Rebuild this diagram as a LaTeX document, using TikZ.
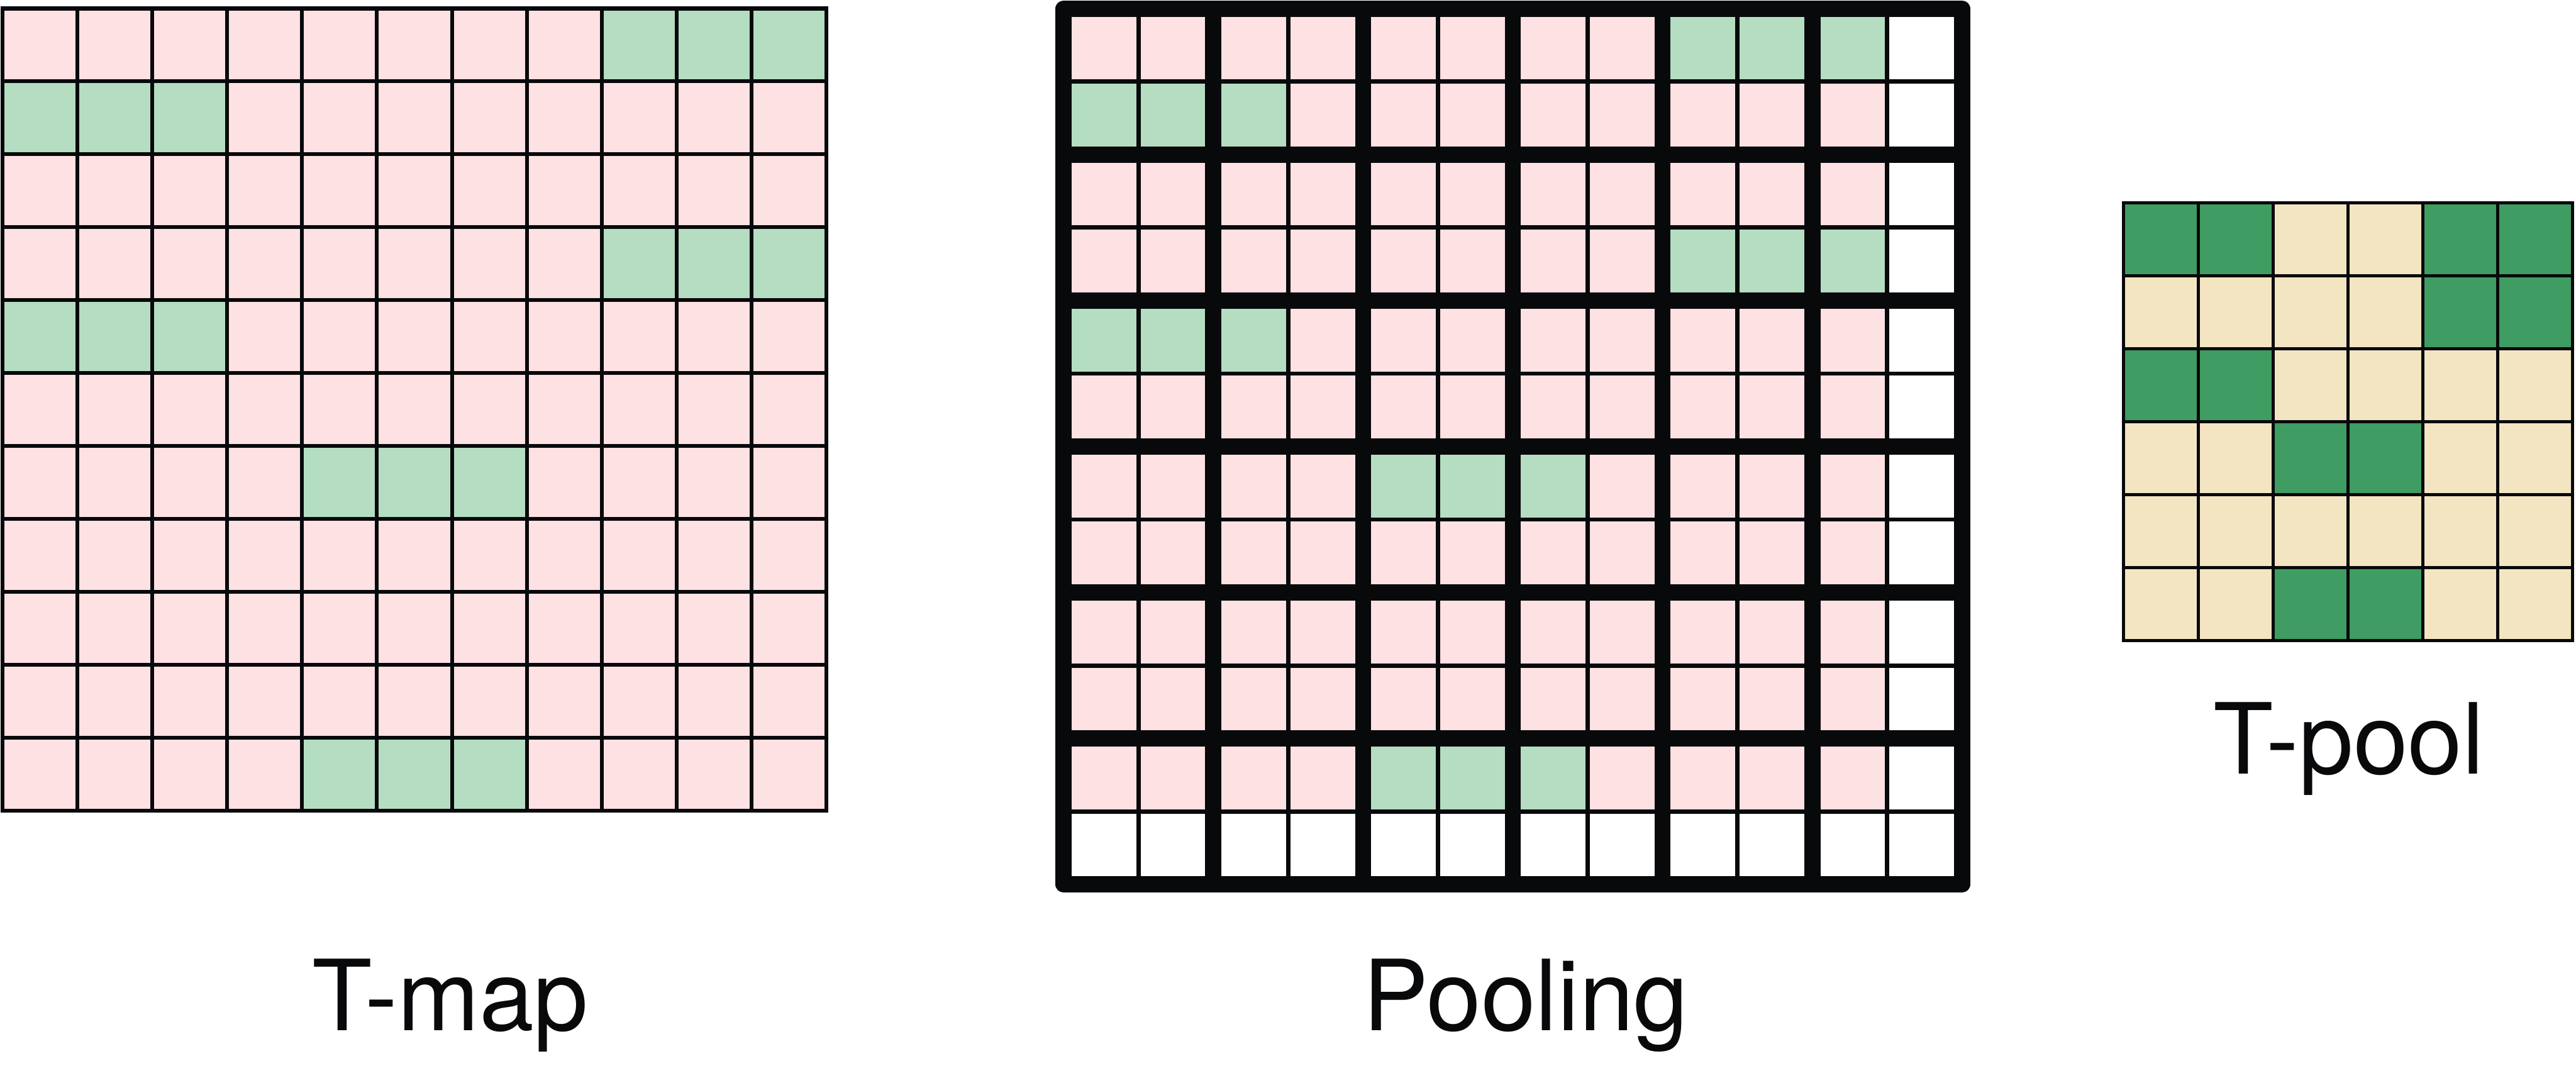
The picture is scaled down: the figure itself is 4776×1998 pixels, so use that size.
\documentclass[tikz,border=0pt]{standalone}
\usepackage{fontspec}
\setmainfont{TeX Gyre Heros}
\definecolor{cpink}{HTML}{FDE1E3}
\definecolor{clgreen}{HTML}{B5DDC1}
\definecolor{cdgreen}{HTML}{3F9C62}
\definecolor{ctan}{HTML}{F3E5C2}
\definecolor{cblack}{HTML}{08090B}
\tikzset{
  mapline/.style={draw=cblack, line width=0.7pt, line cap=rect},
  thinline/.style={draw=cblack, line width=0.8pt},
  thickline/.style={draw=cblack, line width=3pt, line cap=rect},
  frameline/.style={draw=cblack, line width=3pt, line join=round},
  poolline/.style={draw=cblack, line width=0.6pt, line cap=rect},
  lbl/.style={anchor=base, inner sep=0pt, font=\fontsize{18.2pt}{20pt}\selectfont, text=cblack}
}
\begin{document}
\begin{tikzpicture}[x=0.1pt,y=-0.1pt]
\useasboundingbox (0,0) rectangle (4776,1998);
% ---------- T-map ----------
\def\ax{5}\def\ay{15.7}\def\dx{138.8}\def\dy{135.2}
\foreach \r in {0,...,10} \foreach \c in {0,...,10}
  \fill[cpink] ({\ax+\c*\dx},{\ay+\r*\dy}) rectangle ++(\dx,\dy);
\foreach \r/\c in {0/8,0/9,0/10,1/0,1/1,1/2,3/8,3/9,3/10,4/0,4/1,4/2,6/4,6/5,6/6,10/4,10/5,10/6}
  \fill[clgreen] ({\ax+\c*\dx},{\ay+\r*\dy}) rectangle ++(\dx,\dy);
\foreach \i in {0,...,11} {
  \draw[mapline] ({\ax+\i*\dx},\ay) -- ({\ax+\i*\dx},{\ay+11*\dy});
  \draw[mapline] (\ax,{\ay+\i*\dy}) -- ({\ax+11*\dx},{\ay+\i*\dy});
}
% ---------- Pooling ----------
\def\bx{1972}\def\by{16}\def\ex{138.8}\def\ey{135.3}
\foreach \r in {0,...,10} \foreach \c in {0,...,10}
  \fill[cpink] ({\bx+\c*\ex},{\by+\r*\ey}) rectangle ++(\ex,\ey);
\foreach \r/\c in {0/8,0/9,0/10,1/0,1/1,1/2,3/8,3/9,3/10,4/0,4/1,4/2,6/4,6/5,6/6,10/4,10/5,10/6}
  \fill[clgreen] ({\bx+\c*\ex},{\by+\r*\ey}) rectangle ++(\ex,\ey);
\foreach \i in {1,3,...,11} {
  \draw[thinline] ({\bx+\i*\ex},\by) -- ({\bx+\i*\ex},{\by+12*\ey});
  \draw[thinline] (\bx,{\by+\i*\ey}) -- ({\bx+12*\ex},{\by+\i*\ey});
}
\foreach \i in {2,4,...,10} {
  \draw[thickline] ({\bx+\i*\ex},\by) -- ({\bx+\i*\ex},{\by+12*\ey});
  \draw[thickline] (\bx,{\by+\i*\ey}) -- ({\bx+12*\ex},{\by+\i*\ey});
}
\draw[frameline] (\bx,\by) rectangle ({\bx+12*\ex},{\by+12*\ey});
% ---------- T-pool ----------
\def\cx{3937}\def\cy{376}\def\fx{138.8}\def\fy{135.2}
\foreach \r in {0,...,5} \foreach \c in {0,...,5}
  \fill[ctan] ({\cx+\c*\fx},{\cy+\r*\fy}) rectangle ++(\fx,\fy);
\foreach \r/\c in {0/0,0/1,0/4,0/5,1/4,1/5,2/0,2/1,3/2,3/3,5/2,5/3}
  \fill[cdgreen] ({\cx+\c*\fx},{\cy+\r*\fy}) rectangle ++(\fx,\fy);
\foreach \i in {0,...,6} {
  \draw[poolline] ({\cx+\i*\fx},\cy) -- ({\cx+\i*\fx},{\cy+6*\fy});
  \draw[poolline] (\cx,{\cy+\i*\fy}) -- ({\cx+6*\fx},{\cy+\i*\fy});
}
% ---------- labels ----------
\node[lbl] (tmap) at (835,1910) {T-map};
\node[lbl] (pool) at (2829,1910) {Pooling};
\node[lbl] (tpool) at (4355,1435) {T-pool};
\end{tikzpicture}
\end{document}
